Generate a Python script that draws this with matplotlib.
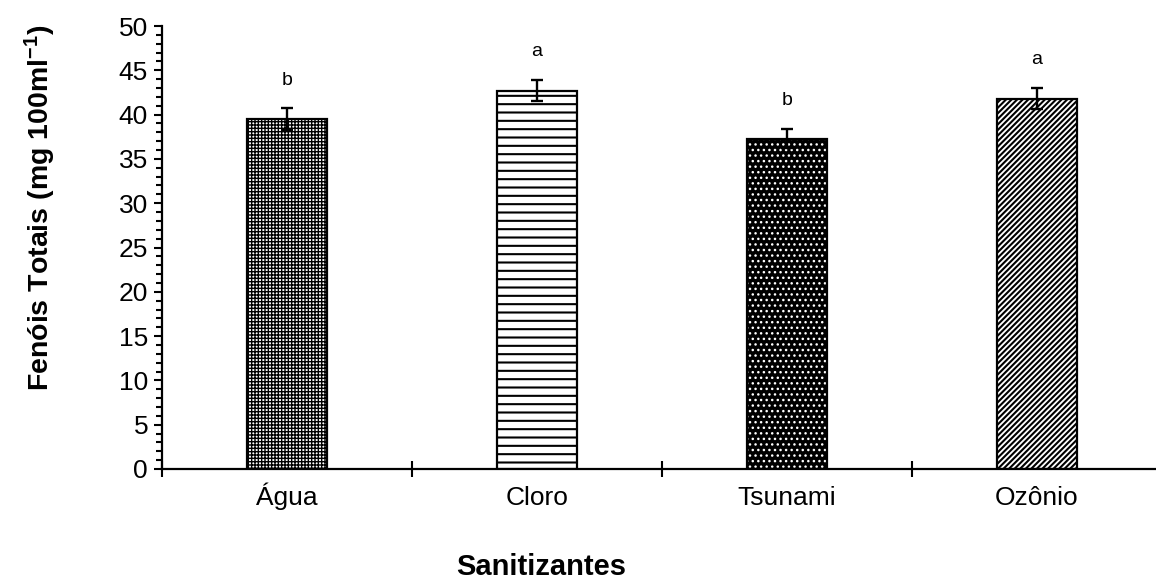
import matplotlib
matplotlib.use("Agg")
import matplotlib.pyplot as plt
from matplotlib.ticker import MultipleLocator, FixedLocator

plt.rcParams["font.family"] = ["Liberation Sans", "DejaVu Sans"]
plt.rcParams["mathtext.fontset"] = "custom"
plt.rcParams["mathtext.rm"] = "Liberation Sans:bold"
plt.rcParams["mathtext.it"] = "Liberation Sans:bold"
plt.rcParams["mathtext.bf"] = "Liberation Sans:bold"

categories = ["Água", "Cloro", "Tsunami", "Ozônio"]
means = [39.5, 42.7, 37.3, 41.8]
errors = [1.2, 1.2, 1.1, 1.2]
letters = ["b", "a", "b", "a"]

hatches = ["+++++", "--", "...", "//////"]
faces = ["white", "white", "black", "white"]
hatch_cols = ["black", "black", "white", "black"]
hatch_lws = [1.0, 1.5, 1.0, 1.5]

fig = plt.figure(figsize=(11.56, 5.81), dpi=100)
ax = fig.add_axes([162 / 1156, 112 / 581, 1000 / 1156, 443 / 581])

x = list(range(len(categories)))
for i in x:
    with plt.rc_context({"hatch.linewidth": hatch_lws[i]}):
        b = ax.bar(x[i], means[i], width=0.32, color=faces[i],
                   edgecolor=hatch_cols[i], hatch=hatches[i], linewidth=0)
        for p in b:
            if hasattr(p, "set_hatch_linewidth"):
                p.set_hatch_linewidth(hatch_lws[i])
ax.bar(x, means, width=0.32, fill=False, edgecolor="black", linewidth=1.6)
ax.errorbar(x, means, yerr=errors, fmt="none", ecolor="black",
            elinewidth=1.7, capsize=4.5, capthick=1.7)

for i in x:
    ax.text(x[i], means[i] + errors[i] + 3.2, letters[i], ha="center",
            va="center", fontsize=14)

ax.set_xlim(-0.5, 3.5)
ax.set_ylim(0, 50)
ax.yaxis.set_major_locator(MultipleLocator(5))
ax.yaxis.set_minor_locator(MultipleLocator(1))
ax.tick_params(axis="y", which="major", direction="out", length=6,
               width=1.5, labelsize=19, pad=4)
ax.tick_params(axis="y", which="minor", direction="out", length=4.3, width=1.5)

ax.xaxis.set_major_locator(FixedLocator([-0.5, 0.5, 1.5, 2.5, 3.5]))
ax.xaxis.set_major_formatter(plt.NullFormatter())
ax.xaxis.set_minor_locator(FixedLocator(x))
ax.set_xticks(x, categories, minor=True)
ax.tick_params(axis="x", which="major", direction="inout", length=12, width=1.5)
ax.tick_params(axis="x", which="minor", length=0, labelsize=19, pad=26)
for lbl in ax.get_xticklabels(minor=True):
    lbl.set_verticalalignment("baseline")

for s in ["top", "right"]:
    ax.spines[s].set_visible(False)
for s in ["left", "bottom"]:
    ax.spines[s].set_linewidth(1.6)

fig.text(40 / 1156, 1 - 208 / 581, r"Fenóis Totais (mg 100ml$^{\mathregular{-1}}$)",
         rotation=90, ha="center", va="center", fontsize=20.5, fontweight="bold")
fig.text(541 / 1156, 1 - 567 / 581, "Sanitizantes", ha="center", va="center",
         fontsize=21, fontweight="bold")

fig.savefig("out.png", dpi=100, facecolor="white")
